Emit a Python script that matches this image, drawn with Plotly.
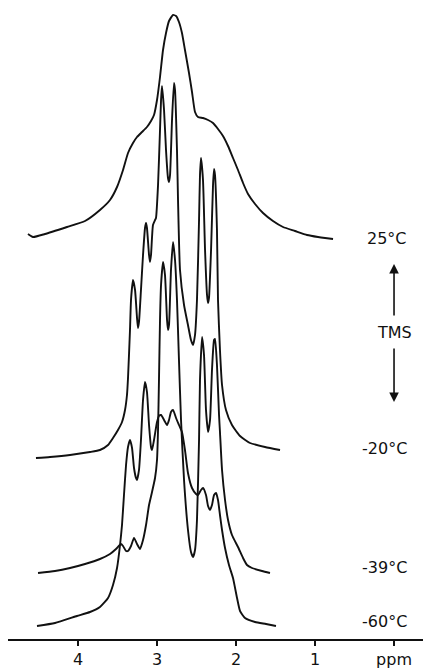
import plotly.graph_objects as go

# ---- data (chemical shift in ppm, intensity in arbitrary units incl. stacking offset) ----
ppm_25 = [4.633, 4.570, 4.418, 4.139, 3.911, 3.722, 3.595, 3.506, 3.430, 3.367, 3.304, 3.253,
          3.190, 3.127, 3.076, 3.038, 3.000, 2.962, 2.924, 2.886, 2.848, 2.797, 2.759, 2.722,
          2.684, 2.646, 2.595, 2.557, 2.519, 2.481, 2.418, 2.354, 2.291, 2.228, 2.165, 2.101,
          2.038, 1.975, 1.911, 1.848, 1.759, 1.658, 1.532, 1.405, 1.253, 1.101, 0.962, 0.873, 0.772]
int_25 = [406, 403, 406, 413, 419, 430, 440, 453, 470, 487, 497, 503,
          508, 513, 519, 525, 540, 563, 590, 607, 619, 625, 624, 618,
          607, 590, 567, 548, 528, 523, 522, 520, 517, 511, 504, 494,
          482, 470, 457, 446, 436, 427, 419, 413, 409, 405, 403, 402, 401]

ppm_m20 = [4.532, 4.354, 4.101, 3.848, 3.722, 3.620, 3.557, 3.494, 3.443, 3.405, 3.380, 3.367,
           3.342, 3.329, 3.304, 3.278, 3.253, 3.241, 3.228, 3.203, 3.177, 3.152, 3.139, 3.127,
           3.101, 3.089, 3.076, 3.051, 3.025, 3.013, 2.987, 2.962, 2.949, 2.937, 2.911, 2.886,
           2.861, 2.848, 2.835, 2.810, 2.785, 2.772, 2.747, 2.734, 2.709, 2.658, 2.608, 2.570,
           2.544, 2.519, 2.494, 2.468, 2.456, 2.443, 2.418, 2.392, 2.367, 2.354, 2.342, 2.316,
           2.291, 2.278, 2.266, 2.241, 2.228, 2.203, 2.177, 2.127, 2.051, 1.949, 1.823, 1.633, 1.443]
int_m20 = [182, 183, 185, 188, 190, 195, 202, 210, 218, 230, 245, 262,
           310, 340, 360, 350, 322, 312, 318, 350, 385, 412, 417, 412,
           385, 378, 385, 415, 420, 422, 455, 510, 540, 554, 530, 490,
           462, 458, 465, 520, 557, 550, 490, 440, 370, 335, 315, 300,
           295, 305, 340, 420, 465, 482, 460, 390, 345, 337, 342, 390,
           455, 471, 465, 410, 340, 290, 255, 230, 215, 204, 197, 193, 190]

ppm_m39 = [4.506, 4.291, 4.101, 3.911, 3.722, 3.595, 3.519, 3.456, 3.430, 3.392, 3.367, 3.329,
           3.291, 3.253, 3.215, 3.177, 3.139, 3.101, 3.063, 3.025, 3.000, 2.987, 2.975, 2.962,
           2.949, 2.924, 2.899, 2.873, 2.861, 2.848, 2.823, 2.797, 2.772, 2.747, 2.722, 2.696,
           2.658, 2.608, 2.570, 2.544, 2.519, 2.494, 2.468, 2.456, 2.430, 2.405, 2.380, 2.354,
           2.329, 2.304, 2.278, 2.266, 2.241, 2.215, 2.203, 2.177, 2.139, 2.101, 2.051, 1.975,
           1.911, 1.861, 1.797, 1.671, 1.570]
int_m39 = [67, 69, 72, 76, 81, 86, 91, 96, 94, 89, 89, 94,
           102, 96, 91, 100, 115, 135, 148, 162, 180, 210, 260, 320,
           355, 378, 365, 320, 310, 315, 370, 398, 380, 340, 280, 220,
           160, 110, 88, 83, 90, 120, 200, 260, 303, 285, 230, 208,
           220, 270, 300, 301, 275, 225, 208, 170, 140, 120, 105, 93,
           82, 75, 72, 69, 67]

ppm_m60 = [4.519, 4.291, 4.013, 3.848, 3.722, 3.620, 3.557, 3.506, 3.468, 3.443, 3.418, 3.392,
           3.367, 3.342, 3.316, 3.291, 3.266, 3.253, 3.228, 3.203, 3.177, 3.152, 3.127, 3.101,
           3.076, 3.063, 3.038, 3.000, 2.975, 2.949, 2.911, 2.873, 2.848, 2.823, 2.797, 2.759,
           2.722, 2.684, 2.646, 2.608, 2.557, 2.506, 2.481, 2.443, 2.418, 2.380, 2.354, 2.329,
           2.304, 2.278, 2.253, 2.228, 2.203, 2.177, 2.139, 2.089, 2.038, 1.987, 1.949, 1.886,
           1.759, 1.620, 1.494]
int_m60 = [14, 17, 24, 28, 33, 42, 55, 72, 95, 115, 145, 175,
           193, 200, 192, 172, 162, 160, 170, 200, 240, 258, 248, 215,
           193, 190, 200, 218, 224, 225, 220, 215, 220, 228, 230, 222,
           215, 208, 190, 167, 152, 146, 145, 150, 152, 145, 134, 130,
           135, 145, 147, 140, 125, 110, 92, 75, 62, 42, 29, 22,
           18, 16, 14]

tick_vals = [4, 3, 2, 1, 0]
tick_text = ["4", "3", "2", "1", "ppm"]
temp_labels = ["25°C", "-20°C", "-39°C", "-60°C"]
label_levels = [402, 192, 73, 19]

series = [(ppm_25, int_25), (ppm_m20, int_m20), (ppm_m39, int_m39), (ppm_m60, int_m60)]

fig = go.Figure()
for xs, ys in series:
    fig.add_trace(go.Scatter(x=xs, y=ys, mode="lines",
                             line=dict(color="#111111", width=1.9, shape="spline", smoothing=0.5),
                             hoverinfo="skip", showlegend=False))

FONT = "DejaVu Sans, Verdana, sans-serif"
INK = "#111111"
for txt, lvl in zip(temp_labels, label_levels):
    fig.add_annotation(x=-0.19, y=lvl, text=txt, showarrow=False, xref="x", yref="y",
                       xanchor="right", font=dict(family=FONT, size=16, color=INK))

fig.add_annotation(x=-0.01, y=308, text="TMS", showarrow=False, xref="x", yref="y",
                   font=dict(family=FONT, size=16, color=INK))
# TMS arrows
fig.add_annotation(x=0.0, y=376, ax=0.0, ay=323, xref="x", yref="y", axref="x", ayref="y",
                   text="", showarrow=True, arrowhead=2, arrowsize=1.2, arrowwidth=1.6,
                   arrowcolor=INK)
fig.add_annotation(x=0.0, y=238, ax=0.0, ay=293, xref="x", yref="y", axref="x", ayref="y",
                   text="", showarrow=True, arrowhead=2, arrowsize=1.2, arrowwidth=1.6,
                   arrowcolor=INK)

# baseline axis line
fig.add_shape(type="line", x0=4.886, x1=-0.468, y0=0, y1=0, xref="x", yref="paper",
              line=dict(color=INK, width=2))

# the page body adds an 8px margin, so the figure is sized to fill the rest of the window
fig.update_layout(
    width=423, height=660,
    margin=dict(l=0, r=0, t=0, b=28),
    paper_bgcolor="white", plot_bgcolor="white",
    xaxis=dict(range=[4.886, -0.468], showgrid=False, zeroline=False, showline=False,
               tickmode="array", tickvals=tick_vals, ticktext=tick_text,
               ticks="outside", ticklen=5, tickwidth=1.6, tickcolor=INK,
               tickfont=dict(family=FONT, size=16, color=INK)),
    yaxis=dict(range=[0, 632], visible=False, fixedrange=True),
)

fig.write_html("out.html")
